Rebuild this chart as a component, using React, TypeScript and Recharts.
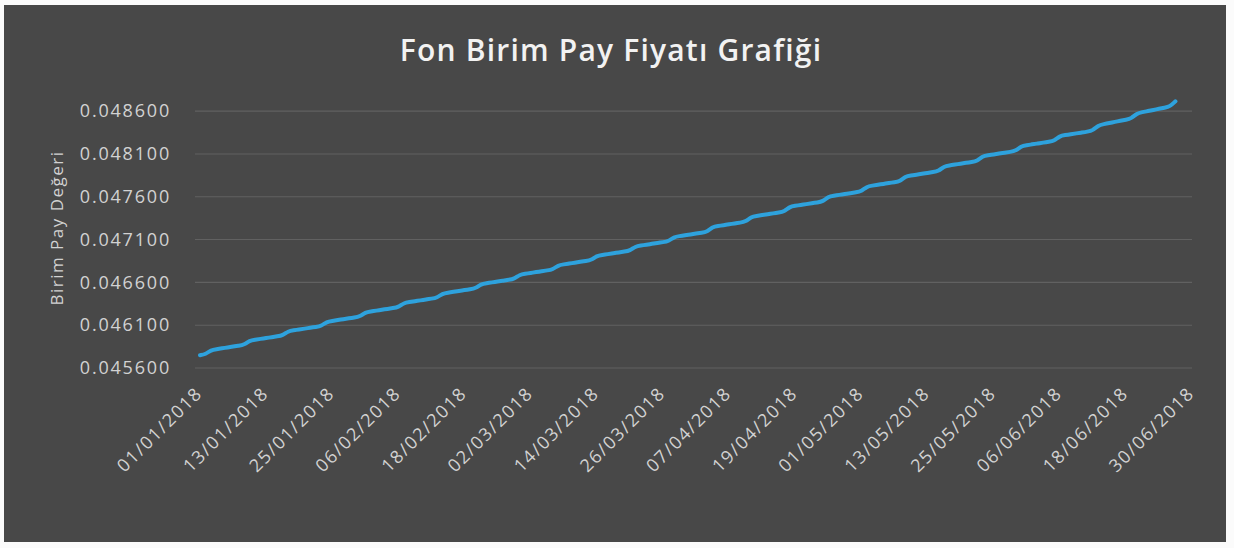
import React from "react";
import { LineChart, Line, XAxis, YAxis, CartesianGrid } from "recharts";

// Daily categories 01/01/2018 .. 30/06/2018
const START_UTC = Date.UTC(2018, 0, 1);
const DAY_COUNT = 181;
const pad2 = (n: number) => (n < 10 ? "0" + n : "" + n);
const dates: string[] = Array.from({ length: DAY_COUNT }, (_, i) => {
  const d = new Date(START_UTC + i * 86400000);
  return `${pad2(d.getUTCDate())}/${pad2(d.getUTCMonth() + 1)}/${d.getUTCFullYear()}`;
});

// Unit price (one value per day, line stops at 27/06)
const prices: number[] = [
  0.04575, 0.04576, 0.04581, 0.04582, 0.04583, 0.04584, 0.04585,
  0.04586, 0.04587, 0.04592, 0.04593, 0.04594, 0.04595, 0.04596,
  0.04597, 0.04598, 0.04603, 0.04604, 0.04605, 0.04606, 0.04607,
  0.04608, 0.04609, 0.04614, 0.04615, 0.04616, 0.04617, 0.04618,
  0.04619, 0.0462, 0.04625, 0.04626, 0.04627, 0.04628, 0.04629,
  0.0463, 0.04631, 0.04636, 0.04637, 0.04638, 0.04639, 0.0464,
  0.04641, 0.04642, 0.04647, 0.04648, 0.04649, 0.0465, 0.04651,
  0.04652, 0.04653, 0.04658, 0.04659, 0.0466, 0.04661, 0.04662,
  0.04663, 0.04664, 0.04669, 0.0467, 0.04671, 0.04672, 0.04673,
  0.04674, 0.04675, 0.0468, 0.04681, 0.04682, 0.04683, 0.04684,
  0.04685, 0.04686, 0.04691, 0.04692, 0.04693, 0.04694, 0.04695,
  0.04696, 0.04697, 0.04702, 0.04703, 0.04704, 0.04705, 0.04706,
  0.04707, 0.04708, 0.04713, 0.04714, 0.04715, 0.04716, 0.04717,
  0.04718, 0.04719, 0.047248, 0.047258, 0.047268, 0.047278, 0.047288,
  0.047298, 0.047308, 0.047366, 0.047376, 0.047386, 0.047396, 0.047406,
  0.047416, 0.047426, 0.047484, 0.047494, 0.047504, 0.047514, 0.047524,
  0.047534, 0.047544, 0.047602, 0.047612, 0.047622, 0.047632, 0.047642,
  0.047652, 0.047662, 0.04772, 0.04773, 0.04774, 0.04775, 0.04776,
  0.04777, 0.04778, 0.047838, 0.047848, 0.047858, 0.047868, 0.047878,
  0.047888, 0.047898, 0.047956, 0.047966, 0.047976, 0.047986, 0.047996,
  0.048006, 0.048016, 0.048074, 0.048084, 0.048094, 0.048104, 0.048114,
  0.048124, 0.048134, 0.048192, 0.048202, 0.048212, 0.048222, 0.048232,
  0.048242, 0.048252, 0.04831, 0.04832, 0.04833, 0.04834, 0.04835,
  0.04836, 0.048373, 0.048435, 0.048448, 0.048461, 0.048474, 0.048487,
  0.0485, 0.048513, 0.048575, 0.048588, 0.048601, 0.048614, 0.048627,
  0.04864, 0.048653, 0.048715,
];

const yTicks: number[] = [0.0456, 0.0461, 0.0466, 0.0471, 0.0476, 0.0481, 0.0486];
const yDomain: [number, number] = [0.0456, 0.0488];

const TITLE = "Fon Birim Pay Fiyatı Grafiği";
const Y_TITLE = "Birim Pay Değeri";

const data = dates.map((date, i) => ({
  date,
  price: i < prices.length ? prices[i] : null,
}));

const FONT = "'Open Sans', 'Noto Sans', sans-serif";
const TEXT_COLOR = "#d2d2d2";

const XTick = (props: any) => {
  const { x, y, payload } = props;
  return (
    <g transform={`translate(${x - 1},${y + 22})`}>
      <text
        x={0}
        y={0}
        dy="0.35em"
        transform="rotate(-45)"
        textAnchor="end"
        fill={TEXT_COLOR}
        fontSize={18}
        fontFamily={FONT}
        letterSpacing={1.6}
      >
        {payload.value}
      </text>
    </g>
  );
};

const YTick = (props: any) => {
  const { x, y, payload } = props;
  return (
    <text
      x={x}
      y={y}
      dy="0.35em"
      textAnchor="end"
      fill={TEXT_COLOR}
      fontSize={18}
      fontFamily={FONT}
      letterSpacing={1.8}
    >
      {Number(payload.value).toFixed(6)}
    </text>
  );
};

const YTitle = () => (
  <text
    x={53}
    y={223}
    transform="rotate(-90 53 223)"
    textAnchor="middle"
    dy="0.35em"
    fill={TEXT_COLOR}
    fontSize={17}
    fontFamily={FONT}
    letterSpacing={1.5}
  >
    {Y_TITLE}
  </text>
);

// Grid rows only at the labelled ticks (not at the padded top of the domain)
const gridRows = (props: any) => {
  const yAxis = props && props.yAxis;
  if (yAxis && typeof yAxis.scale === "function") {
    return yTicks.map((t) => yAxis.scale(t));
  }
  const off = props && props.offset;
  if (off && typeof off.top === "number" && typeof off.height === "number") {
    const [lo, hi] = yDomain;
    return yTicks.map((t) => off.top + ((hi - t) / (hi - lo)) * off.height);
  }
  return [];
};

export default function App() {
  return (
    <div
      style={{
        position: "fixed",
        left: 0,
        top: 0,
        width: 1234,
        height: 548,
        background: "#fbfbfb",
        overflow: "hidden",
      }}
    >
      <div
        style={{
          position: "absolute",
          left: 4,
          top: 5,
          width: 1222,
          height: 537,
          background: "#484848",
        }}
      >
        <div
          style={{
            position: "absolute",
            left: 0,
            top: 28,
            width: 1214,
            textAlign: "center",
            fontFamily: FONT,
            fontWeight: 600,
            fontSize: 30,
            lineHeight: "34px",
            color: "#f2f2f2",
            letterSpacing: 1.2,
          }}
        >
          {TITLE}
        </div>
        <LineChart
          width={1222}
          height={537}
          data={data}
          margin={{ top: 89, right: 34, left: 0, bottom: 0 }}
          style={{ position: "absolute", left: 0, top: 0 }}
        >
          <CartesianGrid
            vertical={false}
            stroke="#616161"
            strokeWidth={1.1}
            horizontalCoordinatesGenerator={gridRows}
          />
          <XAxis
            dataKey="date"
            interval={11}
            height={174}
            axisLine={false}
            tickLine={false}
            tickSize={0}
            tickMargin={0}
            padding={{ left: 5, right: 0 }}
            tick={<XTick />}
          />
          <YAxis
            width={191}
            domain={yDomain}
            ticks={yTicks}
            axisLine={false}
            tickLine={false}
            tickSize={0}
            tickMargin={24}
            tick={<YTick />}
            label={() => <YTitle />}
          />
          <Line
            dataKey="price"
            type="basis"
            stroke="#2ea2dd"
            strokeWidth={4}
            strokeLinecap="round"
            strokeLinejoin="round"
            dot={false}
            activeDot={false}
            connectNulls={false}
            isAnimationActive={false}
          />
        </LineChart>
      </div>
    </div>
  );
}
